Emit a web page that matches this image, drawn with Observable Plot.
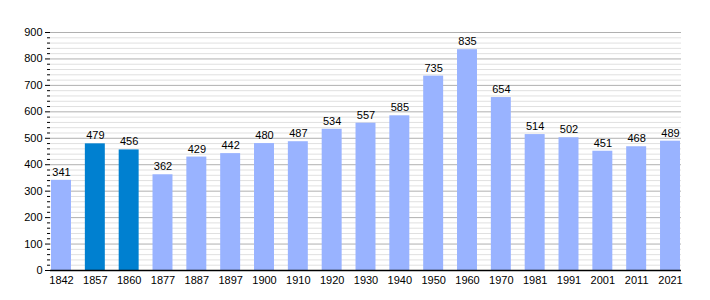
<!DOCTYPE html>
<html><head><meta charset="utf-8">
<script src="https://cdn.jsdelivr.net/npm/d3@7"></script>
<script src="https://cdn.jsdelivr.net/npm/@observablehq/plot@0.6"></script>
<style>body{margin:0;background:#fff}svg{font-family:"Liberation Sans",Arial,sans-serif}</style>
</head><body><div id="chart"></div>
<script>
const years = ["1842","1857","1860","1877","1887","1897","1900","1910","1920","1930","1940","1950","1960","1970","1981","1991","2001","2011","2021"];
const population = [341,479,456,362,429,442,480,487,534,557,585,735,835,654,514,502,451,468,489];
const highlighted = ["1857","1860"];
const majorTicks = [0,100,200,300,400,500,600,700,800,900];
const minorTicks = d3.range(0,901,20).filter(v => v % 100 !== 0);

const data = years.map((y,i)=>({year:y, value:population[i], hi: highlighted.includes(y)}));

const chart = Plot.plot({
  width: 710, height: 300,
  marginLeft: 50, marginRight: 29, marginTop: 32, marginBottom: 30,
  style: {fontSize: "11px", fontFamily: '"Liberation Sans",Arial,sans-serif', color:"#000"},
  x: {domain: years, paddingInner: 0.41, paddingOuter: 0.03, align: 0.5, round: false, label: null},
  y: {domain: [0,900], label: null},
  marks: [
    Plot.ruleY(minorTicks, {stroke: "#e0e0e0", strokeWidth: 1}),
    Plot.ruleY(majorTicks.slice(1), {stroke: "#b0b0b0", strokeWidth: 1}),
    Plot.barY(data, {x: "year", y: "value", fill: d => d.hi ? "#0080d0" : "#99b3ff"}),
    Plot.text(data, {x: "year", y: "value", text: d => String(d.value), dy: -8, fill: "#000", fontSize: 11}),
    Plot.axisX({tickSize: 0, tickPadding: 6, label: null}),
    Plot.axisY({ticks: majorTicks, tickSize: 5, tickPadding: 3, label: null}),
    Plot.axisY({ticks: minorTicks, tickSize: 3, tickFormat: () => "", label: null}),
    Plot.ruleX([0], {frameAnchor: "left", stroke: "#000"}),
    Plot.ruleY([0], {stroke: "#000", strokeWidth: 1.5})
  ]
});
document.getElementById("chart").append(chart);
</script></body></html>
